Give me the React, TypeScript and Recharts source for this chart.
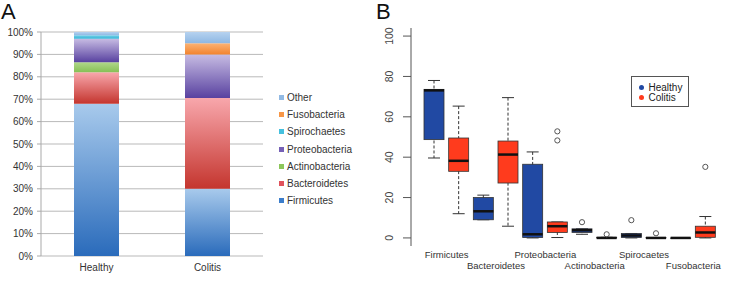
import React from 'react';
import { BarChart, Bar, XAxis, YAxis, CartesianGrid, Legend, ComposedChart } from 'recharts';

// ---------- Panel A data ----------
const groupsA = ['Healthy', 'Colitis'];
const phyla = ['Firmicutes', 'Bacteroidetes', 'Actinobacteria', 'Proteobacteria', 'Spirochaetes', 'Fusobacteria', 'Other'];
const healthyPct = [68, 14, 4.5, 10.5, 1.5, 0, 1.5];
const colitisPct = [30, 40.5, 0, 19.5, 0, 5, 5];
const yTicksA = [0, 10, 20, 30, 40, 50, 60, 70, 80, 90, 100];

// ---------- Panel B data ----------
const boxPhyla = ['Firmicutes', 'Bacteroidetes', 'Proteobacteria', 'Actinobacteria', 'Spirocaetes', 'Fusobacteria'];
const boxGroups = ['Healthy', 'Colitis'];
const whiskerLow = [39.6, 12, 9, 5.8, 0, 0.2, 1.8, 0, 0, 0, 0, 0];
const quart1 = [48.7, 33, 9, 27.2, 0.2, 2.7, 2.7, 0, 0.2, 0, 0, 0.3];
const medians = [73.1, 38.2, 13.2, 41.3, 1.8, 5.8, 3.8, 0, 1.2, 0, 0, 2.7];
const quart3 = [73.6, 49.5, 20, 48, 36.5, 7.9, 4.5, 0.3, 2.2, 0.2, 0, 5.8];
const whiskerHigh = [78, 65.3, 21.2, 69.5, 42.6, 7.9, 4.5, 0.3, 2.2, 0.2, 0, 10.6];
const outliers: number[][] = [[], [], [], [], [], [52.8, 48.3], [7.8], [1.8], [8.8], [2.3], [], [35.2]];
const yTicksB = [0, 20, 40, 60, 80, 100];

const FONT = '"Liberation Sans", Arial, Helvetica, sans-serif';

const gradA: Record<string, [string, string]> = {
  Firmicutes: ['#a8caec', '#2a6bbb'],
  Bacteroidetes: ['#f8a7ac', '#c4352e'],
  Actinobacteria: ['#b0d78a', '#86bf55'],
  Proteobacteria: ['#c7bce3', '#5841a0'],
  Spirochaetes: ['#6fd0e8', '#38b4d6'],
  Fusobacteria: ['#fbb375', '#f2832e'],
  Other: ['#b6d2ef', '#8db7e3'],
};
const legendColA: Record<string, string> = {
  Firmicutes: '#3b7dcb',
  Bacteroidetes: '#e0525c',
  Actinobacteria: '#8cc65a',
  Proteobacteria: '#7560b6',
  Spirochaetes: '#45c0de',
  Fusobacteria: '#f79646',
  Other: '#92bae4',
};
const colB: Record<string, string> = { Healthy: '#2149a3', Colitis: '#ff3b1d' };

const dataA = groupsA.map((g, gi) => {
  const row: Record<string, any> = { name: g };
  phyla.forEach((p, pi) => {
    row[p] = (gi === 0 ? healthyPct : colitisPct)[pi];
  });
  return row;
});

const dataB = medians.map((m, i) => ({
  pos: String(i + 1),
  phylum: boxPhyla[Math.floor(i / 2)],
  group: boxGroups[i % 2],
  wlo: whiskerLow[i],
  q1: quart1[i],
  med: m,
  q3: quart3[i],
  whi: whiskerHigh[i],
  out1: outliers[i][0] ?? null,
  out2: outliers[i][1] ?? null,
}));

const LegendA = () => (
  <div style={{ fontFamily: FONT, fontSize: 10, color: '#333', lineHeight: '17.2px' }}>
    {[...phyla].reverse().map((p) => (
      <div key={p} style={{ height: 17.2, display: 'flex', alignItems: 'center', whiteSpace: 'nowrap' }}>
        <span style={{ display: 'inline-block', width: 5, height: 5, background: legendColA[p], marginLeft: 2, marginRight: 3 }} />
        {p}
      </div>
    ))}
  </div>
);

const LegendB = () => (
  <div
    style={{
      width: 58,
      height: 31,
      border: '1px solid #555',
      boxSizing: 'border-box',
      background: '#fff',
      fontFamily: FONT,
      fontSize: 10,
      color: '#222',
      paddingTop: 5,
    }}
  >
    {boxGroups.map((g) => (
      <div key={g} style={{ height: 10.4, display: 'flex', alignItems: 'center', whiteSpace: 'nowrap' }}>
        <span style={{ display: 'inline-block', width: 5, height: 5, borderRadius: '50%', background: colB[g], marginLeft: 6.5, marginRight: 5 }} />
        {g}
      </div>
    ))}
  </div>
);

const span = (p: any) => {
  const y = Number(p.y);
  const h = Number(p.height);
  const top = h < 0 ? y + h : y;
  return { top, bottom: top + Math.abs(h), x: Number(p.x), w: Number(p.width) };
};

const WhiskerShape = (p: any) => {
  if (!isFinite(p.x) || !isFinite(p.y)) return <g />;
  const { top, bottom, x, w } = span(p);
  const cx = x + w / 2;
  return (
    <g>
      <line x1={cx} x2={cx} y1={top} y2={bottom} stroke="#333" strokeWidth={1} strokeDasharray="3 2" />
      <line x1={x} x2={x + w} y1={top} y2={top} stroke="#333" strokeWidth={1} />
      <line x1={x} x2={x + w} y1={bottom} y2={bottom} stroke="#333" strokeWidth={1} />
    </g>
  );
};

const BoxShape = (p: any) => {
  if (!isFinite(p.x) || !isFinite(p.y)) return <g />;
  const { top, bottom, x, w } = span(p);
  return <rect x={x} y={top} width={w} height={Math.max(bottom - top, 0.5)} fill={colB[p.payload.group]} stroke="#333" strokeWidth={0.8} />;
};

const MedianShape = (p: any) => {
  if (!isFinite(p.x) || !isFinite(p.y)) return <g />;
  const { top, x, w } = span(p);
  return <line x1={x} x2={x + w} y1={top} y2={top} stroke="#111" strokeWidth={2.5} />;
};

const makeOutShape = (key: string) => (p: any) => {
  if (p.payload[key] == null || !isFinite(p.x) || !isFinite(p.y)) return <g />;
  const { top, x, w } = span(p);
  return <circle cx={x + w / 2} cy={top} r={2.6} fill="none" stroke="#555" strokeWidth={1} />;
};

const GroupTick = (p: any) => {
  const row = p.index % 2;
  return (
    <text x={p.x} y={p.y} dy={row ? 23 : 12} textAnchor="middle" fontSize={9.5} fontFamily={FONT} fill="#333">
      {p.payload.value}
    </text>
  );
};

const YTickB = (p: any) => (
  <text
    x={p.x}
    y={p.y}
    dy="0.35em"
    textAnchor="middle"
    transform={`rotate(-90, ${p.x}, ${p.y})`}
    fontSize={10.5}
    fontFamily={FONT}
    fill="#444"
  >
    {p.payload.value}
  </text>
);

const PAD = { left: 11, right: 10 };

const PanelA = () => (
  <BarChart width={370} height={281} data={dataA} margin={{ top: 32, right: 107, bottom: 0, left: 0 }} barSize={45}>
    <defs>
      {phyla.map((p) => (
        <linearGradient key={p} id={`g-${p}`} x1="0" y1="0" x2="0" y2="1">
          <stop offset="0%" stopColor={gradA[p][0]} />
          <stop offset="100%" stopColor={gradA[p][1]} />
        </linearGradient>
      ))}
    </defs>
    <CartesianGrid xAxisId="cat" vertical={false} stroke="#b9b9b9" />
    <XAxis xAxisId="edges" type="number" domain={[0, 2]} ticks={[0, 1, 2]} allowDataOverflow height={0} tick={false} tickSize={4} stroke="#a9a9a9" />
    <XAxis
      xAxisId="cat"
      dataKey="name"
      height={25}
      axisLine={false}
      tickLine={false}
      tickSize={0}
      tickMargin={8}
      tick={{ fontSize: 10, fill: '#333', fontFamily: FONT }}
    />
    <YAxis
      width={41}
      domain={[0, 100]}
      ticks={yTicksA}
      interval={0}
      tickFormatter={(v: number) => `${v}%`}
      tickSize={4}
      tickMargin={4}
      stroke="#a9a9a9"
      tick={{ fontSize: 10, fill: '#333', fontFamily: FONT }}
    />
    {phyla.map((p) => (
      <Bar key={p} xAxisId="cat" dataKey={p} stackId="s" fill={`url(#g-${p})`} isAnimationActive={false} />
    ))}
    <Legend layout="vertical" align="center" verticalAlign="middle" wrapperStyle={{ left: 277, top: 89, width: 95 }} content={LegendA} />
  </BarChart>
);

const PanelB = () => (
  <ComposedChart width={363} height={281} data={dataB} margin={{ top: 28, right: 5, bottom: 0, left: 0 }}>
    <XAxis xAxisId="pos" dataKey="pos" allowDuplicatedCategory={false} padding={PAD} height={7} tickSize={7} tick={false} interval={0} stroke="#555" />
    <XAxis
      xAxisId="grp"
      dataKey="phylum"
      allowDuplicatedCategory={false}
      padding={PAD}
      height={28}
      axisLine={false}
      tickLine={false}
      tickSize={0}
      tickMargin={0}
      interval={0}
      tick={GroupTick}
    />
    <XAxis xAxisId="top" orientation="top" dataKey="pos" allowDuplicatedCategory={false} height={0} tick={false} tickLine={false} stroke="#555" />
    <XAxis xAxisId="w" dataKey="pos" allowDuplicatedCategory={false} padding={PAD} hide />
    <XAxis xAxisId="m" dataKey="pos" allowDuplicatedCategory={false} padding={PAD} hide />
    <XAxis xAxisId="o1" dataKey="pos" allowDuplicatedCategory={false} padding={PAD} hide />
    <XAxis xAxisId="o2" dataKey="pos" allowDuplicatedCategory={false} padding={PAD} hide />
    <YAxis yAxisId="left" width={41} domain={[-4, 104]} allowDataOverflow ticks={yTicksB} interval={0} tickSize={8} tickMargin={14} stroke="#555" tick={YTickB} />
    <YAxis yAxisId="right" orientation="right" width={0} domain={[-4, 104]} allowDataOverflow tick={false} tickLine={false} stroke="#555" />
    <Bar xAxisId="w" yAxisId="left" dataKey={(d: any) => [d.wlo, d.whi]} barSize={12} shape={WhiskerShape} isAnimationActive={false} />
    <Bar xAxisId="pos" yAxisId="left" dataKey={(d: any) => [d.q1, d.q3]} barSize={20} shape={BoxShape} isAnimationActive={false} />
    <Bar xAxisId="m" yAxisId="left" dataKey={(d: any) => [d.med, d.med]} barSize={20} shape={MedianShape} isAnimationActive={false} />
    <Bar xAxisId="o1" yAxisId="left" dataKey={(d: any) => (d.out1 == null ? [0, 0] : [d.out1, d.out1])} barSize={6} shape={makeOutShape('out1')} isAnimationActive={false} />
    <Bar xAxisId="o2" yAxisId="left" dataKey={(d: any) => (d.out2 == null ? [0, 0] : [d.out2, d.out2])} barSize={6} shape={makeOutShape('out2')} isAnimationActive={false} />
    <Legend layout="vertical" align="center" verticalAlign="middle" wrapperStyle={{ left: 261, top: 76, width: 58 }} content={LegendB} />
  </ComposedChart>
);

export default function App() {
  return (
    <div style={{ position: 'absolute', left: 0, top: 0, width: 733, height: 281, background: '#fff', overflow: 'hidden', fontFamily: FONT }}>
      <div style={{ position: 'absolute', left: 0, top: 0 }}>
        <PanelA />
      </div>
      <div style={{ position: 'absolute', left: 370, top: 0 }}>
        <PanelB />
      </div>
      <div style={{ position: 'absolute', left: 1, top: 1, fontSize: 22, lineHeight: '22px', color: '#111' }}>A</div>
      <div style={{ position: 'absolute', left: 376, top: 1, fontSize: 22, lineHeight: '22px', color: '#111' }}>B</div>
    </div>
  );
}
